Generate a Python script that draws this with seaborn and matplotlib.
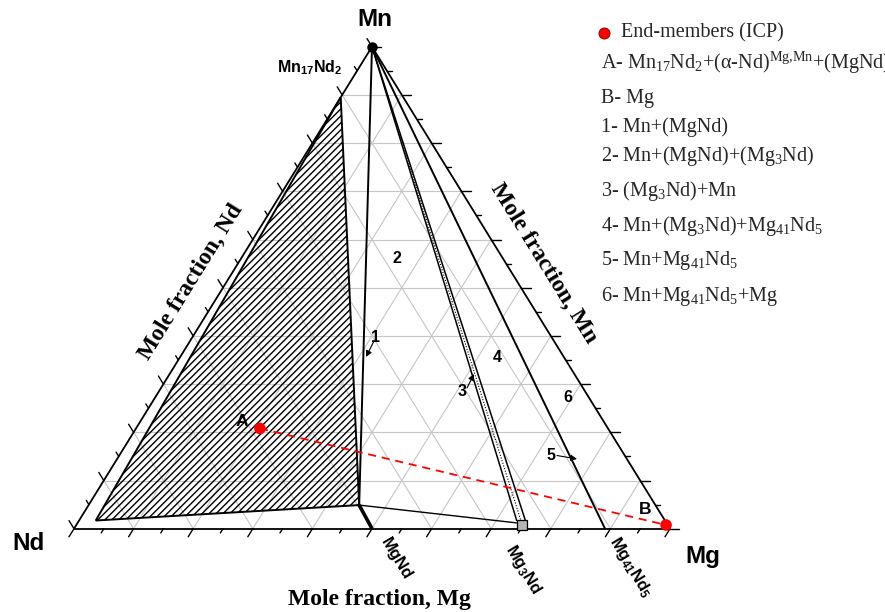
import numpy as np
import matplotlib
matplotlib.use("Agg")
import matplotlib.pyplot as plt
from matplotlib.patches import Polygon
from matplotlib.collections import LineCollection
from matplotlib.lines import Line2D
import seaborn as sns
import pandas as pd

# ---------------------------------------------------------------------------
# Compositions as (Mg, Mn) mole fractions; Nd = 1 - Mg - Mn
# ---------------------------------------------------------------------------
mn_corner = (0.000, 1.000)
mn17nd2 = (0.000, 0.895)
mgnd_node = (0.454, 0.049)
nd_node = (0.028, 0.017)
mgnd = (0.500, 0.000)
mg3nd = (0.748, 0.007)
mg3nd_band_left = (0.735, 0.016)
mg3nd_band_mid = (0.742, 0.016)
mg3nd_band_right = (0.7496, 0.016)
mg3nd_tie_end = (0.737, 0.012)
mg41nd5 = (0.891, 0.000)

# end-member compositions measured by ICP
end_member_labels = ["A", "B"]
end_member_mg = [0.208, 0.9895]
end_member_mn = [0.208, 0.0077]

legend_entries = [
    r"A- Mn$_{17}$Nd$_{2}$+(α-Nd)$^{\mathrm{Mg{,}Mn}}$+(MgNd)",
    "B- Mg",
    "1- Mn+(MgNd)",
    r"2- Mn+(MgNd)+(Mg$_{3}$Nd)",
    r"3- (Mg$_{3}$Nd)+Mn",
    r"4- Mn+(Mg$_{3}$Nd)+Mg$_{41}$Nd$_{5}$",
    r"5- Mn+Mg$_{41}$Nd$_{5}$",
    r"6- Mn+Mg$_{41}$Nd$_{5}$+Mg",
]
legend_y_px = [63, 98, 127, 156, 191, 226, 261, 296]

# ---------------------------------------------------------------------------
sns.set_theme(style="white")
plt.rcParams["mathtext.fontset"] = "custom"
plt.rcParams["mathtext.rm"] = "Liberation Serif"
plt.rcParams["mathtext.it"] = "Liberation Serif:italic"
plt.rcParams["mathtext.bf"] = "Liberation Sans:bold"
plt.rcParams["font.family"] = ["Liberation Serif", "DejaVu Serif"]

W, H = 885, 612
X0, X1, YB, YT = 74.0, 670.0, 528.7, 46.7
PXW, PXH = X1 - X0, YB - YT

fig = plt.figure(figsize=(W / 100, H / 100), dpi=100)
ax = fig.add_axes([X0 / W, 1 - YB / H, PXW / W, PXH / H])
ax.set_xlim(0, 1)
ax.set_ylim(0, 1)
ax.axis("off")


def tern(mg, mn):
    mg = np.asarray(mg, dtype=float)
    mn = np.asarray(mn, dtype=float)
    return mg + mn / 2.0, mn


def fpos(px, py):
    return px / W, 1 - py / H


def seg(p, q, **kw):
    x, y = tern([p[0], q[0]], [p[1], q[1]])
    ax.plot(x, y, clip_on=False, solid_capstyle="butt", **kw)


# ---- grid every 0.1 -------------------------------------------------------
grid_kw = dict(color="#c6c6c6", lw=0.8, zorder=1)
for k in range(1, 10):
    c = k / 10
    seg((0, c), (1 - c, c), **grid_kw)          # constant Mn
    seg((c, 0), (c, 1 - c), **grid_kw)          # constant Mg
    seg((1 - c, 0), (0, 1 - c), **grid_kw)      # constant Nd

# ---- triangle frame -------------------------------------------------------
frame_kw = dict(color="black", lw=1.3, zorder=4)
seg((0, 0), (1, 0), **frame_kw)
seg((1, 0), (0, 1), **frame_kw)
seg((0, 1), (0, 0), **frame_kw)

# ---- ticks ----------------------------------------------------------------
def pixlen(dx, dy):
    return np.hypot(dx * PXW, dy * PXH)


tick_vals = np.round(np.arange(0, 1.0001, 0.05), 2)
for v in tick_vals:
    major = int(round(v * 20)) % 2 == 0
    L = 9.5 if major else 5.0
    # bottom axis: Mg fraction, ticks point along Mn -> Nd
    d = np.array([-0.5, -1.0]) * L / pixlen(-0.5, -1.0)
    x, y = tern(v, 0)
    ax.plot([x, x + d[0]], [y, y + d[1]], color="black", lw=1.0, clip_on=False, zorder=4)
    # right axis: Mn fraction, ticks point along Nd -> Mg
    d = np.array([1.0, 0.0]) * L / pixlen(1.0, 0.0)
    x, y = tern(1 - v, v)
    ax.plot([x, x + d[0]], [y, y + d[1]], color="black", lw=1.0, clip_on=False, zorder=4)
    # left axis: Nd fraction, ticks point along Mg -> Mn
    d = np.array([-0.5, 1.0]) * L / pixlen(-0.5, 1.0)
    x, y = tern(0, 1 - v)
    ax.plot([x, x + d[0]], [y, y + d[1]], color="black", lw=1.0, clip_on=False, zorder=4)

# ---- hatched three-phase field A -------------------------------------------
fx, fy = tern([mn17nd2[0], mgnd_node[0], nd_node[0]],
              [mn17nd2[1], mgnd_node[1], nd_node[1]])
field = Polygon(np.column_stack([fx, fy]), closed=True, facecolor="none",
                edgecolor="black", lw=1.4, zorder=5)
ax.add_patch(field)
spacing = 7.0
hatch = []
for c in np.arange(-PXW, PXH, spacing):
    xs = np.array([-20.0, PXW + 20.0])
    ys = xs + c
    hatch.append(np.column_stack([xs / PXW, ys / PXH]))
hc = LineCollection(hatch, colors="black", linewidths=1.0, zorder=3)
ax.add_collection(hc)
hc.set_clip_path(field)

# ---- tie lines from the Mn corner ----------------------------------------
tie_kw = dict(color="black", lw=1.4, zorder=5)
seg(mn_corner, mgnd_node, **tie_kw)
seg(mn_corner, mg41nd5, **tie_kw)
seg(mn_corner, mg3nd_band_left, color="black", lw=1.1, zorder=5)
seg(mn_corner, mg3nd_band_right, color="black", lw=1.1, zorder=5)
seg(mn_corner, mg3nd_band_mid, color="black", lw=0.8, ls=(0, (1, 1.5)), zorder=5)
seg(mgnd_node, mg3nd_tie_end, color="black", lw=1.0, zorder=5)
seg(mgnd_node, mgnd, color="black", lw=2.6, zorder=5)

# phase markers
mx, my = tern(mg3nd[0], mg3nd[1])
ax.plot([mx], [my], marker="s", ms=7, mfc="#b4b4b4", mec="black", mew=0.9,
        clip_on=False, zorder=6)
cx, cy = tern(*mn_corner)
ax.plot([cx], [cy], marker="o", ms=6.5, mfc="black", mec="black", clip_on=False, zorder=6)

# ---- end-members and their connecting line --------------------------------
ex, ey = tern(end_member_mg, end_member_mn)
em = pd.DataFrame({"x": ex, "y": ey, "label": end_member_labels})
ax.plot(em["x"], em["y"], color="red", lw=1.3, ls=(0, (4.5, 3.2)), zorder=6, clip_on=False)
sns.scatterplot(data=em, x="x", y="y", ax=ax, color="red", s=70, edgecolor="none",
                zorder=7, clip_on=False, legend=False)
ax.set_xlim(0, 1)
ax.set_ylim(0, 1)
ax.axis("off")

# ---- labels ----------------------------------------------------------------
sans_b = dict(family=["Liberation Sans", "DejaVu Sans"], weight="bold", color="black")
serif_b = dict(family=["Liberation Serif", "DejaVu Serif"], weight="bold", color="black")

fig.text(*fpos(375, 20), "Mn", fontsize=17.5, ha="center", va="center", **sans_b)
fig.text(*fpos(29, 544), "Nd", fontsize=17.5, ha="center", va="center", **sans_b)
fig.text(*fpos(703, 557), "Mg", fontsize=17.5, ha="center", va="center", **sans_b)

fig.text(*fpos(379, 599), "Mole fraction, Mg", fontsize=17, ha="center", va="center", **serif_b)
fig.text(*fpos(191, 282), "Mole fraction, Nd", fontsize=17, ha="center", va="center",
         rotation=58.2, rotation_mode="anchor", **serif_b)
fig.text(*fpos(544, 263), "Mole fraction, Mn", fontsize=17, ha="center", va="center",
         rotation=-58.2, rotation_mode="anchor", **serif_b)

fig.text(*fpos(310, 68), r"Mn$_{\mathbf{17}}$Nd$_{\mathbf{2}}$", fontsize=11.5,
         ha="center", va="center", **sans_b)
fig.text(*fpos(396, 559), "MgNd", fontsize=12, ha="center", va="center",
         rotation=-59, rotation_mode="anchor", **sans_b)
fig.text(*fpos(523, 569), r"Mg$_{\mathbf{3}}$Nd", fontsize=12, ha="center", va="center",
         rotation=-59, rotation_mode="anchor", **sans_b)
fig.text(*fpos(631, 567), r"Mg$_{\mathbf{41}}$Nd$_{\mathbf{5}}$", fontsize=12,
         ha="center", va="center", rotation=-59, rotation_mode="anchor", **sans_b)

fig.text(*fpos(242, 421), "A", fontsize=12.5, ha="center", va="center", **sans_b)
fig.text(*fpos(645, 509), "B", fontsize=12.5, ha="center", va="center", **sans_b)
fig.text(*fpos(397, 258), "2", fontsize=11.5, ha="center", va="center", **sans_b)
fig.text(*fpos(497.5, 357.5), "4", fontsize=11.5, ha="center", va="center", **sans_b)
fig.text(*fpos(567.5, 397.5), "6", fontsize=11.5, ha="center", va="center", **sans_b)

arrow_kw = dict(arrowstyle="-|>", color="black", lw=0.8, mutation_scale=9,
                shrinkA=0, shrinkB=0)
for txt, tpos, start, end in [
    ("1", (376, 338), (374, 341), (366, 357)),
    ("3", (462, 392), (467, 388), (474, 374)),
    ("5", (551, 455), (557, 455.5), (577, 459)),
]:
    fig.text(*fpos(*tpos), txt, fontsize=11.5, ha="center", va="center", **sans_b)
    ax.annotate("", xy=fpos(*end), xycoords="figure fraction",
                xytext=fpos(*start), textcoords="figure fraction",
                arrowprops=arrow_kw, zorder=8)

# ---- legend text ------------------------------------------------------------
fig.add_artist(Line2D([604 / W], [1 - 33 / H], marker="o", ms=8, mfc="red",
                      mec="#7a0000", mew=0.6, ls="none", transform=fig.transFigure))
fig.text(*fpos(621, 33), "End-members (ICP)", fontsize=14.5, ha="left", va="center",
         family=["Liberation Serif", "DejaVu Serif"])
for txt, ypx in zip(legend_entries, legend_y_px):
    fig.text(*fpos(601, ypx), txt, fontsize=14.5, ha="left", va="center",
             family=["Liberation Serif", "DejaVu Serif"])

fig.savefig("out.png", dpi=100, facecolor="white")
